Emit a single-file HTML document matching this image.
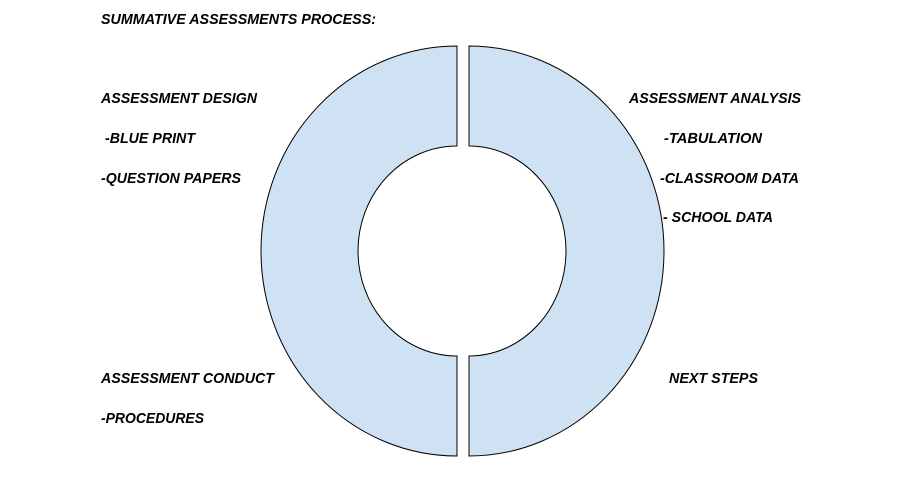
<!DOCTYPE html>
<html><head><meta charset="utf-8"><style>
html,body{margin:0;padding:0;background:#fff;}
svg{display:block}
text{font-family:"Liberation Sans",Arial,sans-serif;font-weight:bold;font-style:italic;font-size:15px;fill:#000}
</style></head><body>
<svg width="902" height="501" viewBox="0 0 902 501">
<path d="M457,46 A196,205 0 0 0 457,456 L457,356 A99,105 0 0 1 457,146 Z" fill="#cfe2f3" stroke="#000" stroke-width="1"/>
<path d="M469,46 A195,205 0 0 1 469,456 L469,356 A97,105 0 0 0 469,146 Z" fill="#cfe2f3" stroke="#000" stroke-width="1"/>
<text x="101" y="24" textLength="275" lengthAdjust="spacingAndGlyphs">SUMMATIVE ASSESSMENTS PROCESS:</text>
<text x="101" y="103" textLength="156" lengthAdjust="spacingAndGlyphs">ASSESSMENT DESIGN</text>
<text x="105" y="143" textLength="90" lengthAdjust="spacingAndGlyphs">-BLUE PRINT</text>
<text x="101" y="183" textLength="140" lengthAdjust="spacingAndGlyphs">-QUESTION PAPERS</text>
<text x="629" y="103" textLength="172" lengthAdjust="spacingAndGlyphs">ASSESSMENT ANALYSIS</text>
<text x="664" y="143" textLength="98" lengthAdjust="spacingAndGlyphs">-TABULATION</text>
<text x="660" y="183" textLength="139" lengthAdjust="spacingAndGlyphs">-CLASSROOM DATA</text>
<text x="663" y="222" textLength="110" lengthAdjust="spacingAndGlyphs">- SCHOOL DATA</text>
<text x="101" y="383" textLength="173" lengthAdjust="spacingAndGlyphs">ASSESSMENT CONDUCT</text>
<text x="101" y="423" textLength="103" lengthAdjust="spacingAndGlyphs">-PROCEDURES</text>
<text x="669" y="383" textLength="89" lengthAdjust="spacingAndGlyphs">NEXT STEPS</text>
</svg>
</body></html>
